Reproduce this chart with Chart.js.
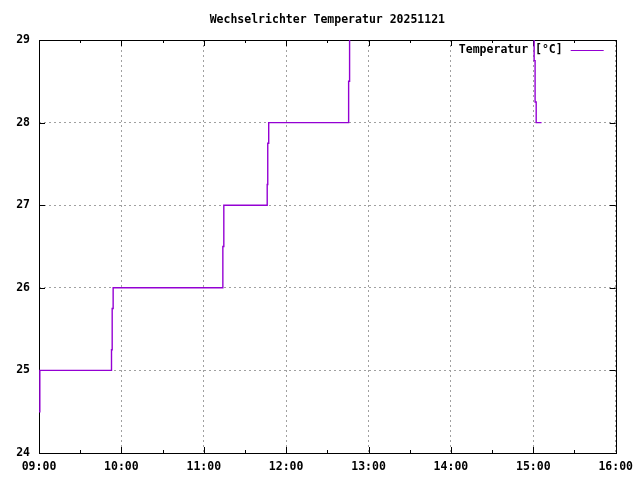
<!DOCTYPE html>
<html>
<head>
<meta charset="utf-8">
<script src="https://cdn.jsdelivr.net/npm/chart.js@4/dist/chart.umd.min.js"></script>
<style>
  html, body { margin: 0; padding: 0; background: #fff; }
  #wrap { width: 640px; height: 480px; }
</style>
</head>
<body>
<div id="wrap"><canvas id="tempChart" width="640" height="480"></canvas></div>
<script>
// time of each reading in minutes since midnight, value in °C
const times = [540, 540.6, 592.8, 593.3, 594, 673.9, 674.6, 706.2, 706.6, 707.3, 765.5, 766.2, 900.6, 901.3, 902.1, 906]
const temps = [24.5, 25, 25.25, 25.75, 26, 26.5, 27, 27.25, 27.75, 28, 28.5, 29.5, 28.75, 28.25, 28, 28]

const xMin = 540, xMax = 960, xStep = 60
const yMin = 24, yMax = 29, yStep = 1

const seriesLabel = 'Temperatur [°C]'
const titleText = 'Wechselrichter Temperatur 20251121'

const FONT = { family: '"DejaVu Sans Mono", monospace', size: 11.5, weight: 'bold' }

function hhmm(min) {
  const h = Math.floor(min / 60), m = Math.round(min % 60)
  return String(h).padStart(2, '0') + ':' + String(m).padStart(2, '0')
}

// gnuplot style frame: black box + inward tick marks on all four sides
const framePlugin = {
  id: 'frame',
  beforeDatasetsDraw(chart) {
    const { ctx, chartArea: a, scales } = chart
    ctx.save()
    ctx.strokeStyle = '#000'
    ctx.lineWidth = 1
    ctx.beginPath()
    for (let v = yMin; v <= yMax; v += yStep) {
      const y = Math.round(scales.y.getPixelForValue(v)) + 0.5
      ctx.moveTo(a.left, y); ctx.lineTo(a.left + 6, y)
      ctx.moveTo(a.right, y); ctx.lineTo(a.right - 6, y)
    }
    // major every hour, minor every half hour
    for (let t = xMin; t <= xMax; t += xStep / 2) {
      const x = Math.round(scales.x.getPixelForValue(t)) + 0.5
      const len = (t - xMin) % xStep === 0 ? 6 : 3
      ctx.moveTo(x, a.bottom); ctx.lineTo(x, a.bottom - len)
      ctx.moveTo(x, a.top); ctx.lineTo(x, a.top + len)
    }
    ctx.stroke()
    ctx.strokeRect(Math.round(a.left) + 0.5, Math.round(a.top) + 0.5,
      Math.round(a.right - a.left), Math.round(a.bottom - a.top))
    ctx.restore()
  }
}

// key in the top right corner: text first, sample line after it
const keyPlugin = {
  id: 'key',
  afterDraw(chart) {
    const { ctx, chartArea: a } = chart
    const ds = chart.data.datasets[0]
    const y = a.top + 10.5
    ctx.save()
    ctx.font = `${FONT.weight} ${FONT.size}px ${FONT.family}`
    ctx.fillStyle = '#000'
    ctx.textAlign = 'right'
    ctx.textBaseline = 'middle'
    ctx.fillText(ds.label, a.right - 53, y)
    ctx.strokeStyle = ds.borderColor
    ctx.lineWidth = 1
    ctx.beginPath()
    ctx.moveTo(a.right - 45, y)
    ctx.lineTo(a.right - 12, y)
    ctx.stroke()
    ctx.restore()
  }
}

const ctx = document.getElementById('tempChart').getContext('2d')

const tempChart = new Chart(ctx, {
  type: 'line',
  data: {
    datasets: [{
      label: seriesLabel,
      data: times.map((t, i) => ({ x: t, y: temps[i] })),
      borderColor: '#9400d3',
      backgroundColor: '#9400d3',
      borderWidth: 1.4,
      pointRadius: 0,
      stepped: true,
      fill: false
    }]
  },
  options: {
    responsive: false,
    animation: false,
    events: [],
    layout: { padding: { left: 0, right: 23, top: 0, bottom: 0 } },
    scales: {
      x: {
        type: 'linear',
        min: xMin,
        max: xMax,
        afterFit: s => { s.height = 27 },
        grid: {
          color: '#a0a0a0',
          lineWidth: 1,
          drawTicks: false
        },
        border: { display: false, dash: [2, 3] },
        ticks: {
          stepSize: xStep,
          padding: 7,
          maxRotation: 0,
          autoSkip: false,
          color: '#000',
          font: FONT,
          callback: v => hhmm(v)
        }
      },
      y: {
        min: yMin,
        max: yMax,
        afterFit: s => { s.width = 39 },
        grid: {
          color: '#a0a0a0',
          lineWidth: 1,
          drawTicks: false
        },
        border: { display: false, dash: [2, 3] },
        ticks: {
          stepSize: yStep,
          padding: 9,
          color: '#000',
          font: FONT
        }
      }
    },
    plugins: {
      title: {
        display: true,
        text: titleText,
        fullSize: false,
        color: '#000',
        font: { ...FONT, lineHeight: 1.2 },
        padding: { top: 13, bottom: 13.2 }
      },
      legend: { display: false },
      tooltip: { enabled: false }
    }
  },
  plugins: [framePlugin, keyPlugin]
})
</script>
</body>
</html>
